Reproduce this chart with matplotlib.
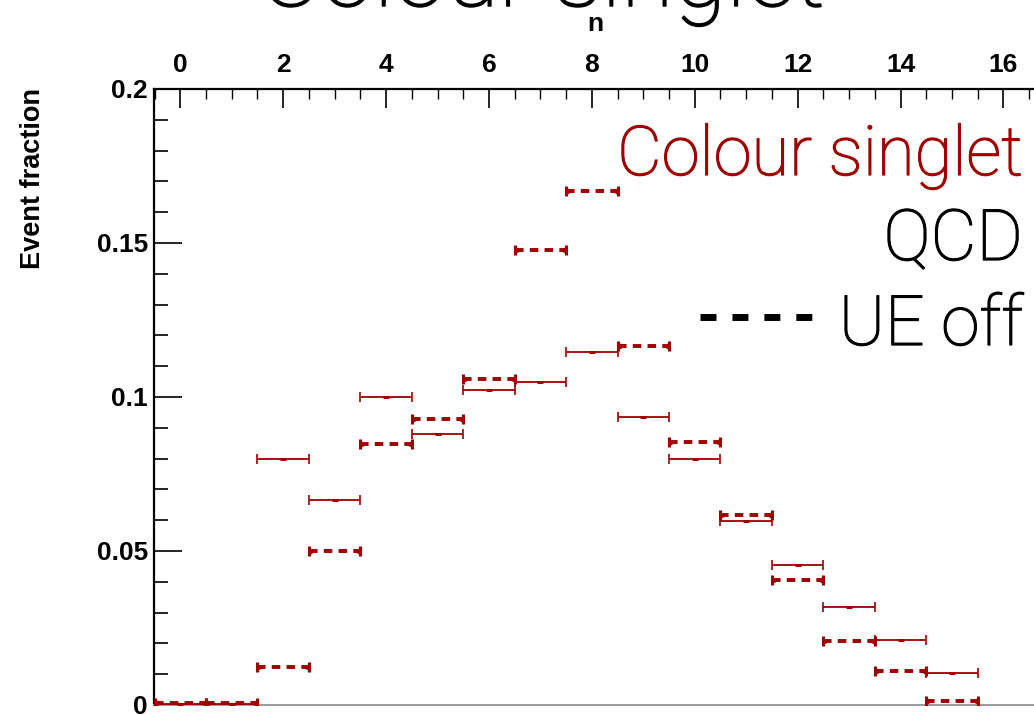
import matplotlib
matplotlib.use("Agg")
import matplotlib.pyplot as plt
import matplotlib.patheffects as pe
from matplotlib.ticker import FixedLocator, FixedFormatter, MultipleLocator
import numpy as np

# ---- data ----
n_values = list(range(16))
qcd_fraction = [0.0002, 0.0003, 0.0800, 0.0667, 0.0999, 0.0881, 0.1024, 0.1050,
                0.1145, 0.0934, 0.0798, 0.0599, 0.0456, 0.0318, 0.0210, 0.0105]
ue_off_fraction = [0.0007, 0.0008, 0.0124, 0.0501, 0.0847, 0.0929, 0.1059, 0.1476,
                   0.1669, 0.1164, 0.0855, 0.0616, 0.0405, 0.0208, 0.0112, 0.0013]
bin_half_width = 0.5
x_ticks = [0, 2, 4, 6, 8, 10, 12, 14, 16]
y_ticks = [0, 0.05, 0.1, 0.15, 0.2]
y_tick_labels = ["0", "0.05", "0.1", "0.15", "0.2"]
title_text = "Colour singlet"
legend_title = "Colour singlet"
legend_entries = ["QCD", "UE off"]

RED = "#a00000"
W, H = 1034, 715
DPI = 100
plt.rcParams['font.family'] = ['Liberation Sans', 'DejaVu Sans']
LIGHT = ['Roboto', 'Liberation Sans', 'DejaVu Sans']

fig = plt.figure(figsize=(W / DPI, H / DPI), dpi=DPI)

# axes in pixel geometry
x0, x1 = -0.52, 17.0
px_per_unit = 51.45
left_px = 153.5
right_px = left_px + (x1 - x0) * px_per_unit
top_px, bottom_px = 89.0, 705.0
ax = fig.add_axes([left_px / W, 1 - bottom_px / H,
                   (right_px - left_px) / W, (bottom_px - top_px) / H])
ax.set_xlim(x0, x1)
ax.set_ylim(0, 0.2)

n = np.array(n_values)

# QCD: solid
eb = ax.errorbar(n, qcd_fraction, xerr=bin_half_width, fmt='none', ecolor=RED,
                 elinewidth=1.3, capsize=3.5, capthick=1.2, zorder=3)
ax.plot(n, qcd_fraction, linestyle='none', marker='_', markersize=4,
        markeredgewidth=2.2, color=RED, zorder=4)

# UE off: dashed
eb2 = ax.errorbar(n, ue_off_fraction, xerr=bin_half_width, fmt='none', ecolor=RED,
                  elinewidth=2.8, capsize=3.5, capthick=2.2, zorder=3)
for lc in eb2.lines[2]:
    lc.set_linestyle((0, (2.2, 1.6)))
ax.plot(n - bin_half_width, ue_off_fraction, linestyle='none', marker=9,
        markersize=4.5, color=RED, zorder=4)
ax.plot(n + bin_half_width, ue_off_fraction, linestyle='none', marker=8,
        markersize=4.5, color=RED, zorder=4)

# spines
ax.spines['right'].set_visible(False)
ax.spines['top'].set_linewidth(1.6)
ax.spines['left'].set_linewidth(1.6)
ax.spines['bottom'].set_linewidth(1.4)
ax.spines['bottom'].set_color('#9a9a9a')

# x axis on top
ax.xaxis.set_ticks_position('top')
ax.xaxis.set_label_position('top')
ax.xaxis.set_major_locator(FixedLocator(x_ticks))
ax.xaxis.set_minor_locator(MultipleLocator(0.5))
ax.tick_params(axis='x', which='major', direction='in', length=13.7, width=1.2,
               pad=9, labelsize=19)
ax.tick_params(axis='x', which='minor', direction='in', length=7, width=1.0)
for lab in ax.get_xticklabels():
    lab.set_fontweight('bold')

# y axis
ax.yaxis.set_major_locator(FixedLocator(y_ticks))
ax.yaxis.set_major_formatter(FixedFormatter(y_tick_labels))
ax.yaxis.set_minor_locator(MultipleLocator(0.01))
ax.tick_params(axis='y', which='major', direction='in', length=20, width=1.2,
               pad=4, labelsize=19, right=False)
ax.tick_params(axis='y', which='minor', direction='in', length=10, width=1.2,
               right=False)
for lab in ax.get_yticklabels():
    lab.set_fontweight('bold')

# axis labels
fig.text(595 / W, 1 - 24 / H, "n", ha='center', va='center', fontsize=19,
         fontweight='bold')
fig.text(20 / W, 1 - 88 / H, "Event fraction", rotation=90, ha='left', va='top',
         fontsize=19.5, fontweight='bold')


def thick(color, lw):
    return [pe.withStroke(linewidth=lw, foreground=color)]


# big title (cropped at top)
fig.text(542 / W, 1 - 6 / H, title_text, ha='center', va='baseline',
         fontsize=69, family=LIGHT, fontweight='light', color='black',
         path_effects=thick('black', 1.1))

# legend text
fig.text(1023 / W, 1 - 175 / H, legend_title, ha='right', va='baseline',
         fontsize=49.5, family=LIGHT, fontweight='light', color=RED,
         path_effects=thick(RED, 0.9))
fig.text(1023 / W, 1 - 260 / H, legend_entries[0], ha='right', va='baseline',
         fontsize=51, family=LIGHT, fontweight='light', color='black',
         path_effects=thick('black', 0.9))
fig.text(1023 / W, 1 - 345 / H, legend_entries[1], ha='right', va='baseline',
         fontsize=50, family=LIGHT, fontweight='light', color='black',
         path_effects=thick('black', 0.9))
fig.add_artist(plt.Line2D([700 / W, 812 / W], [1 - 317 / H, 1 - 317 / H],
                          transform=fig.transFigure, color='black', linewidth=5,
                          linestyle=(0, (2.3, 2.3)), solid_capstyle='butt',
                          dash_capstyle='butt'))

fig.savefig("out.png", dpi=DPI)
